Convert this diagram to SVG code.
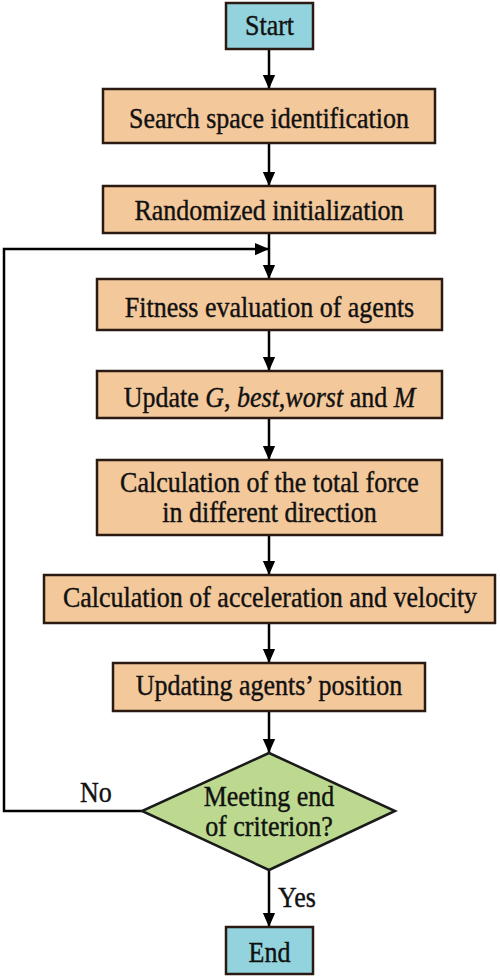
<svg xmlns="http://www.w3.org/2000/svg" width="500" height="977" viewBox="0 0 500 977">
<defs>
<style>
text{font-family:'Liberation Serif','Times New Roman',Times,'DejaVu Serif',serif;font-size:26px;fill:#111;stroke:#111;stroke-width:0.35}
.t{text-anchor:middle}
.box{fill:#F3C89B;stroke:#2a1a12;stroke-width:2.5}
.term{fill:#93D3DE;stroke:#2a1a12;stroke-width:2.5}
.dec{fill:#BCD98F;stroke:#1a1a1a;stroke-width:2.5}
.c{fill:none;stroke:#000;stroke-width:2.5}
</style>
<marker id="ah" markerWidth="14" markerHeight="16" viewBox="0 0 16 14" refX="16" refY="7" orient="auto" markerUnits="userSpaceOnUse">
<path d="M0,0 L16,7 L0,14 Z" fill="#000"/>
</marker>
</defs>
<rect width="500" height="977" fill="#fff"/>
<g id="connectors">
<line class="c" x1="269" y1="49" x2="269" y2="89" marker-end="url(#ah)"/>
<line class="c" x1="269" y1="143" x2="269" y2="186" marker-end="url(#ah)"/>
<line class="c" x1="269" y1="233" x2="269" y2="279" marker-end="url(#ah)"/>
<polyline class="c" points="142,811 4,811 4,249 269,249" marker-end="url(#ah)"/>
<line class="c" x1="269" y1="330" x2="269" y2="371" marker-end="url(#ah)"/>
<line class="c" x1="269" y1="418" x2="269" y2="460" marker-end="url(#ah)"/>
<line class="c" x1="269" y1="535" x2="269" y2="575" marker-end="url(#ah)"/>
<line class="c" x1="269" y1="623" x2="269" y2="663" marker-end="url(#ah)"/>
<line class="c" x1="269" y1="711" x2="269" y2="753" marker-end="url(#ah)"/>
<line class="c" x1="269" y1="870" x2="269" y2="927" marker-end="url(#ah)"/>
<text x="80" y="802" transform="matrix(1,0,0,1.12,0,-96.24)">No</text>
<text x="278" y="907" transform="matrix(1,0,0,1.12,0,-108.84)">Yes</text>
</g>
<g id="start">
<rect class="term" x="226" y="3" width="87" height="46"/>
<text class="t" x="269.5" y="35" transform="matrix(1,0,0,1.12,0,-4.2)">Start</text>
</g>
<g id="search">
<rect class="box" x="103" y="89" width="332" height="54"/>
<text class="t" x="269" y="128" transform="matrix(1,0,0,1.12,0,-15.36)">Search space identification</text>
</g>
<g id="randomized">
<rect class="box" x="103" y="186" width="332" height="47"/>
<text class="t" x="269" y="220" transform="matrix(1,0,0,1.12,0,-26.4)">Randomized initialization</text>
</g>
<g id="fitness">
<rect class="box" x="97" y="279" width="345" height="51"/>
<text class="t" x="269.5" y="317" transform="matrix(1,0,0,1.12,0,-38.04)">Fitness evaluation of agents</text>
</g>
<g id="update">
<rect class="box" x="97" y="371" width="345" height="47"/>
<text class="t" x="269.5" y="407" transform="matrix(1,0,0,1.12,0,-48.84)">Update <tspan font-style="italic">G</tspan>, <tspan font-style="italic">best</tspan>,<tspan font-style="italic">worst</tspan> and <tspan font-style="italic">M</tspan></text>
</g>
<g id="force">
<rect class="box" x="97" y="460" width="345" height="75"/>
<text class="t" x="269.5" y="492" transform="matrix(1,0,0,1.12,0,-59.04)">Calculation of the total force</text>
<text class="t" x="269.5" y="522" transform="matrix(1,0,0,1.12,0,-62.64)">in different direction</text>
</g>
<g id="acceleration">
<rect class="box" x="44" y="575" width="451" height="48"/>
<text class="t" x="270" y="607" transform="matrix(1,0,0,1.12,0,-72.84)">Calculation of acceleration and velocity</text>
</g>
<g id="position">
<rect class="box" x="113" y="663" width="312" height="48"/>
<text class="t" x="269" y="695" transform="matrix(1,0,0,1.12,0,-83.4)">Updating agents’ position</text>
</g>
<g id="decision">
<polygon class="dec" points="269,753 395,811 269,870 142,811"/>
<text class="t" x="269" y="806" transform="matrix(1,0,0,1.12,0,-96.72)">Meeting end</text>
<text class="t" x="269" y="836" transform="matrix(1,0,0,1.12,0,-100.32)">of criterion?</text>
</g>
<g id="end">
<rect class="term" x="226" y="927" width="87" height="47"/>
<text class="t" x="269.5" y="962" transform="matrix(1,0,0,1.12,0,-115.44)">End</text>
</g>
</svg>
